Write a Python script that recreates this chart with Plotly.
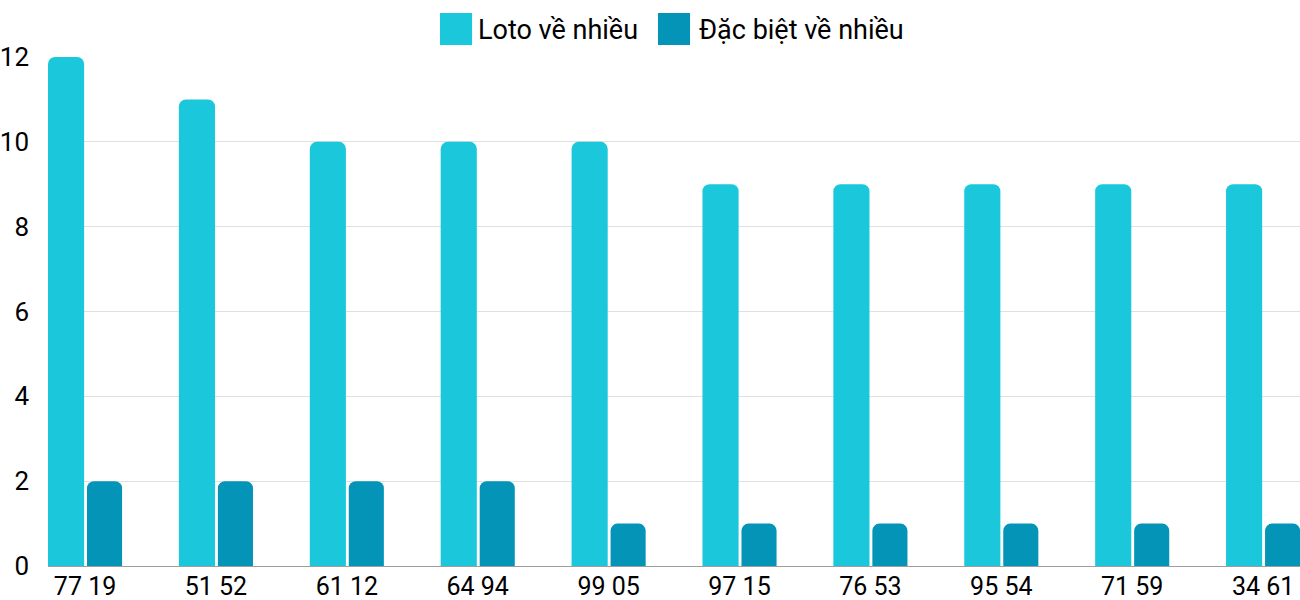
import plotly.graph_objects as go

categories = ["77 19", "51 52", "61 12", "64 94", "99 05", "97 15", "76 53", "95 54", "71 59", "34 61"]
loto_values = [12, 11, 10, 10, 10, 9, 9, 9, 9, 9]
db_values = [2, 2, 2, 2, 1, 1, 1, 1, 1, 1]
series_names = ["Loto về nhiều", "Đặc biệt về nhiều"]
colors = ["#1bc8db", "#0494b8"]

fig = go.Figure()

fig.add_trace(go.Bar(
    x=categories, y=loto_values,
    name=series_names[0],
    marker=dict(color=colors[0], line=dict(width=0)),
    offset=-0.283, width=0.276,
    showlegend=False,
))

fig.add_trace(go.Bar(
    x=categories, y=db_values,
    name=series_names[1],
    marker=dict(color=colors[1], line=dict(width=0)),
    offset=0.015, width=0.268,
    showlegend=False,
))

# legend drawn by hand (big square swatches)
legend_items = [
    (0.3131, 0.3387, 0.3435),
    (0.4872, 0.5128, 0.5200),
]
for (x0, x1, tx), name, col in zip(legend_items, series_names, colors):
    fig.add_shape(type="rect", xref="paper", yref="paper",
                  x0=x0, x1=x1, y0=1.0236, y1=1.0864,
                  fillcolor=col, line=dict(width=0))
    fig.add_annotation(x=tx, y=1.053, xref="paper", yref="paper",
                       text=name, showarrow=False, xanchor="left", yanchor="middle",
                       xshift=-2,
                       font=dict(size=27, color="#000000"))

fig.update_layout(
    width=1300, height=600,
    margin=dict(l=48, r=0, t=57, b=34, autoexpand=False),
    barmode="overlay",
    barcornerradius=7,
    plot_bgcolor="white",
    paper_bgcolor="white",
    font=dict(family="Roboto", size=26, color="#000000"),
    xaxis=dict(
        type="category",
        range=[-0.283, 9.282],
        showgrid=False,
        showline=True, linecolor="#9e9e9e", linewidth=1,
        ticks="", tickfont=dict(size=25),
        ticklabelstandoff=-2,
        automargin=False,
    ),
    yaxis=dict(
        range=[0, 12],
        tickvals=[0, 2, 4, 6, 8, 10, 12],
        showgrid=True, gridcolor="#e0e0e0", gridwidth=1,
        zeroline=False,
        showline=False,
        ticks="", tickfont=dict(size=26),
        ticklabelstandoff=18,
        automargin=False,
    ),
)

fig.write_html("out.html", config={"displayModeBar": False},
               post_script="document.body.style.margin='0';")
